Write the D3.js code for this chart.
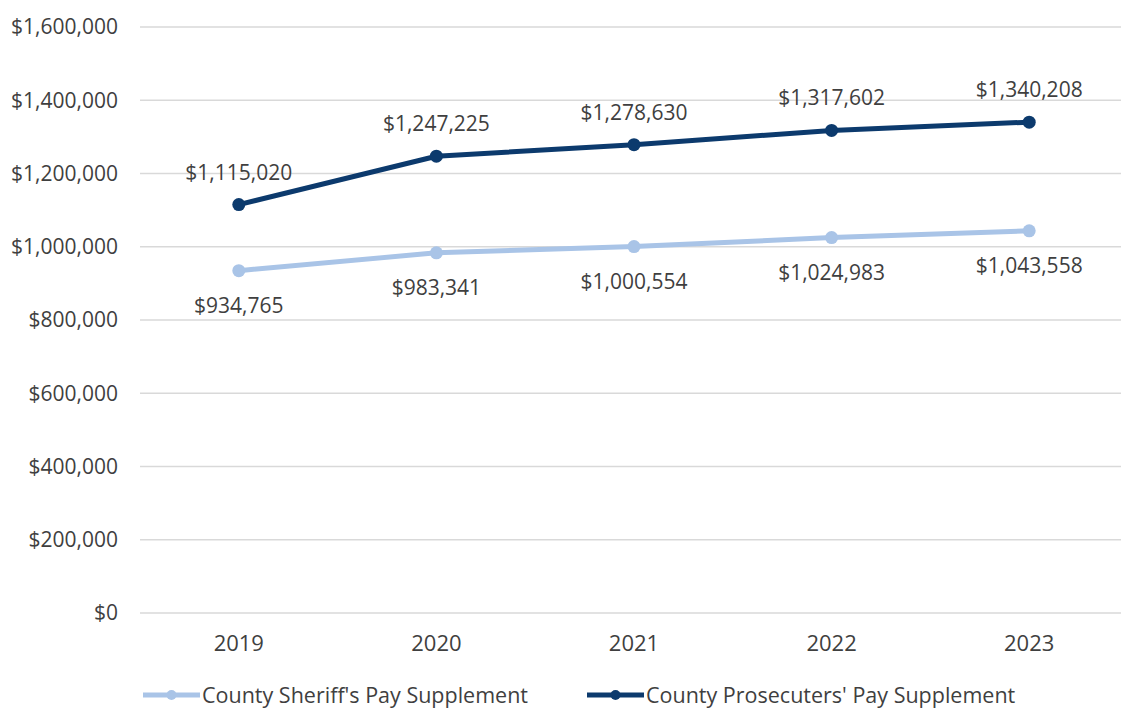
<!DOCTYPE html>
<html>
<head>
<meta charset="utf-8">
<script src="https://cdn.jsdelivr.net/npm/d3@7"></script>
<style>
  body { margin: 0; background: #fff; }
  text { font-family: "Open Sans", sans-serif; fill: #3f3f3f; }
</style>
</head>
<body>
<svg id="chart" width="1121" height="710"></svg>
<script>
const years = ["2019", "2020", "2021", "2022", "2023"];
const sheriff = [934765, 983341, 1000554, 1024983, 1043558];
const prosecutors = [1115020, 1247225, 1278630, 1317602, 1340208];
const yTicks = [0, 200000, 400000, 600000, 800000, 1000000, 1200000, 1400000, 1600000];

const series = [
  { name: "County Sheriff's Pay Supplement", values: sheriff, color: "#a9c4e7", labelDy: 42 },
  { name: "County Prosecuters' Pay Supplement", values: prosecutors, color: "#0c3a6d", labelDy: -25 }
];

const width = 1121, height = 710;
const margin = { left: 140, right: 0, top: 27, bottom: 97 };

const svg = d3.select("#chart");

const x = d3.scaleBand()
  .domain(years)
  .range([margin.left, 1128]);

const y = d3.scaleLinear()
  .domain([0, 1600000])
  .range([height - margin.bottom, margin.top]);

const fmt = d3.format("$,");

// gridlines
svg.append("g")
  .selectAll("line")
  .data(yTicks)
  .enter().append("line")
  .attr("x1", margin.left)
  .attr("x2", 1121)
  .attr("y1", d => y(d))
  .attr("y2", d => y(d))
  .attr("stroke", "#d9d9d9")
  .attr("stroke-width", 1.3);

// y labels
svg.append("g")
  .selectAll("text")
  .data(yTicks)
  .enter().append("text")
  .attr("x", 118)
  .attr("y", d => y(d))
  .attr("dy", "0.35em")
  .attr("text-anchor", "end")
  .attr("font-size", 21)
  .text(d => fmt(d));

// x labels
svg.append("g")
  .selectAll("text")
  .data(years)
  .enter().append("text")
  .attr("x", d => x(d) + x.bandwidth() / 2)
  .attr("y", 643)
  .attr("dy", "0.35em")
  .attr("text-anchor", "middle")
  .attr("font-size", 22)
  .text(d => d);

const cx = (d, i) => x(years[i]) + x.bandwidth() / 2;

const line = d3.line()
  .x(cx)
  .y(d => y(d));

series.forEach(s => {
  const g = svg.append("g");
  g.append("path")
    .datum(s.values)
    .attr("d", line)
    .attr("fill", "none")
    .attr("stroke", s.color)
    .attr("stroke-width", 5)
    .attr("stroke-linejoin", "round");

  g.selectAll("circle")
    .data(s.values)
    .enter().append("circle")
    .attr("cx", cx)
    .attr("cy", d => y(d))
    .attr("r", 6.5)
    .attr("fill", s.color);

  g.selectAll("text")
    .data(s.values)
    .enter().append("text")
    .attr("x", cx)
    .attr("y", d => y(d) + s.labelDy)
    .attr("text-anchor", "middle")
    .attr("font-size", 21)
    .text(d => fmt(d));
});

// legend
const legendX = [143, 587];
series.forEach((s, i) => {
  const lg = svg.append("g").attr("transform", "translate(" + legendX[i] + ",695)");
  lg.append("line")
    .attr("x1", 0).attr("x2", 57)
    .attr("stroke", s.color)
    .attr("stroke-width", 5);
  lg.append("circle")
    .attr("cx", 28.5).attr("r", 5)
    .attr("fill", s.color);
  lg.append("text")
    .attr("x", 59)
    .attr("dy", "0.35em")
    .attr("font-size", 21.5)
    .text(s.name);
});
</script>
</body>
</html>
